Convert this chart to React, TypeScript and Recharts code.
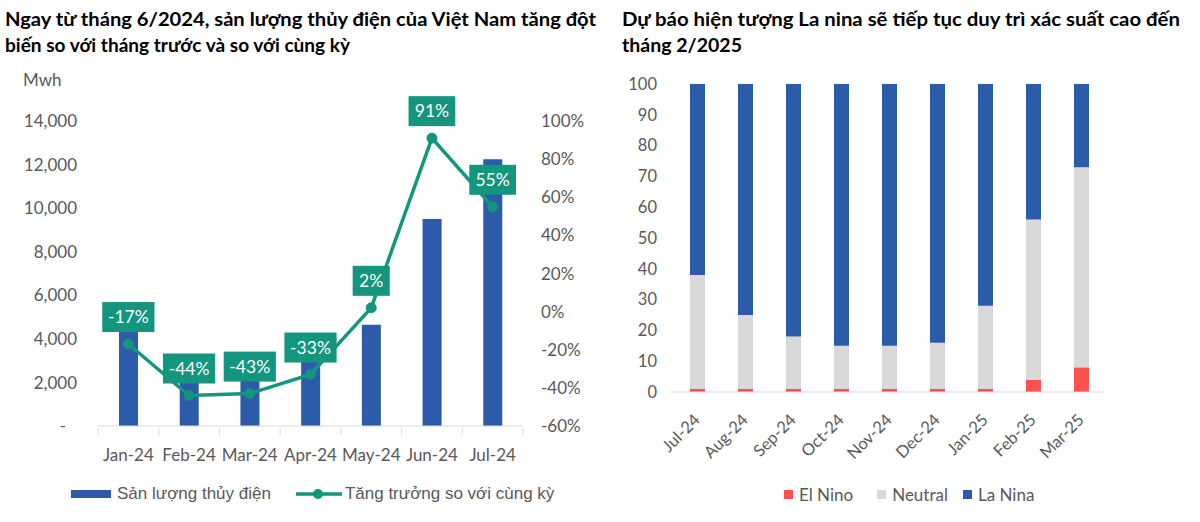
import React from 'react';
import { Bar, BarChart, ComposedChart, LabelList, Line, XAxis, YAxis } from 'recharts';

const hydroMonths = ['Jan-24', 'Feb-24', 'Mar-24', 'Apr-24', 'May-24', 'Jun-24', 'Jul-24'];
const hydroOutput = [4400, 2300, 2300, 3100, 4650, 9500, 12250];
const yoyGrowth = [-17, -44, -43, -33, 2, 91, 55];
const outputTicks = [0, 2000, 4000, 6000, 8000, 10000, 12000, 14000];
const growthTicks = [-60, -40, -20, 0, 20, 40, 60, 80, 100];

const ensoMonths = ['Jul-24', 'Aug-24', 'Sep-24', 'Oct-24', 'Nov-24', 'Dec-24', 'Jan-25', 'Feb-25', 'Mar-25'];
const elNino = [1, 1, 1, 1, 1, 1, 1, 4, 8];
const neutral = [37, 24, 17, 14, 14, 15, 27, 52, 65];
const laNina = [62, 75, 82, 85, 85, 84, 72, 44, 27];
const probTicks = [0, 10, 20, 30, 40, 50, 60, 70, 80, 90, 100];

const BLUE = '#2B5BA9';
const GREEN = '#13957E';
const RED = '#FF5050';
const LIGHT = '#D9D9D9';
const TEXT = '#595959';
const FONT = 'Lato, "Open Sans", sans-serif';

const hydroData = hydroMonths.map((month, i) => ({ month, output: hydroOutput[i], growth: yoyGrowth[i] }));
const ensoData = ensoMonths.map((month, i) => ({
  month,
  elNino: elNino[i],
  neutral: neutral[i],
  laNina: laNina[i],
}));

// rough glyph widths so the label box hugs the text
function labelWidth(text: string) {
  let w = 0;
  for (const ch of text) w += ch === '%' ? 13.5 : ch === '-' ? 5.5 : 9.6;
  return w + 14;
}

function GrowthLabel(props: any) {
  const { x, y, value } = props;
  const text = `${value}%`;
  const w = labelWidth(text);
  const cy = y - 27;
  return (
    <g>
      <rect x={x - w / 2} y={cy - 15} width={w} height={30} fill={GREEN} />
      <text x={x} y={cy} dy={'0.36em'} textAnchor={'middle'} fill={'#fff'} fontSize={17.5} fontFamily={FONT}>
        {text}
      </text>
    </g>
  );
}

function MonthTick(props: any) {
  const { x, y, payload, index, visibleTicksCount, width } = props;
  const half = payload.offset || width / visibleTicksCount / 2;
  return (
    <g>
      <line x1={x - half} x2={x - half} y1={y} y2={y + 7} stroke={LIGHT} />
      {index === visibleTicksCount - 1 && <line x1={x + half} x2={x + half} y1={y} y2={y + 7} stroke={LIGHT} />}
      <text x={x} y={y + 33} textAnchor={'middle'} fill={TEXT} fontSize={17} fontFamily={FONT}>
        {payload.value}
      </text>
    </g>
  );
}

function OutputTick(props: any) {
  const { x, y, payload } = props;
  const zero = payload.value === 0;
  return (
    <text x={zero ? x - 11 : x} y={y} dy={'0.36em'} textAnchor={'end'} fill={TEXT} fontSize={17} fontFamily={FONT}>
      {zero ? '-' : payload.value.toLocaleString('en-US')}
    </text>
  );
}

function RotatedTick(props: any) {
  const { x, y, payload } = props;
  const tx = x + 4;
  const ty = y + 27;
  return (
    <text x={tx} y={ty} transform={`rotate(-45, ${tx}, ${ty})`} textAnchor={'end'} fill={TEXT} fontSize={16.5} fontFamily={FONT}>
      {payload.value}
    </text>
  );
}

const titleStyle = { fontFamily: FONT, fontWeight: 700, fontSize: 18, fill: '#000' };

export default function App() {
  return (
    <div style={{ position: 'absolute', left: 0, top: 0, width: 1200, height: 522, background: '#fff', overflow: 'hidden' }}>
      <svg width={1200} height={100} style={{ position: 'absolute', left: 0, top: 0 }}>
        <text x={5} y={26} textLength={591} lengthAdjust={'spacingAndGlyphs'} style={titleStyle}>
          Ngay từ tháng 6/2024, sản lượng thủy điện của Việt Nam tăng đột
        </text>
        <text x={5} y={52} textLength={345} lengthAdjust={'spacingAndGlyphs'} style={titleStyle}>
          biến so với tháng trước và so với cùng kỳ
        </text>
        <text x={622} y={26} textLength={558} lengthAdjust={'spacingAndGlyphs'} style={titleStyle}>
          Dự báo hiện tượng La nina sẽ tiếp tục duy trì xác suất cao đến
        </text>
        <text x={622} y={52} textLength={120} lengthAdjust={'spacingAndGlyphs'} style={titleStyle}>
          tháng 2/2025
        </text>
        <text x={23} y={86} fill={TEXT} fontSize={17} fontFamily={FONT}>
          Mwh
        </text>
      </svg>

      <div style={{ position: 'absolute', left: 0, top: 0 }}>
        <ComposedChart width={600} height={522} data={hydroData} margin={{ top: 121, right: 17, bottom: 66, left: 28 }}>
          <XAxis
            dataKey={'month'}
            height={30}
            interval={0}
            axisLine={{ stroke: LIGHT }}
            tickLine={false}
            tickSize={0}
            tick={<MonthTick />}
          />
          <YAxis
            yAxisId={'mwh'}
            width={70}
            domain={[0, 14000]}
            ticks={outputTicks}
            axisLine={false}
            tickLine={false}
            tickSize={0}
            tickMargin={21}
            tick={<OutputTick />}
          />
          <YAxis
            yAxisId={'pct'}
            orientation={'right'}
            width={60}
            domain={[-60, 100]}
            ticks={growthTicks}
            axisLine={false}
            tickLine={false}
            tickSize={0}
            tickMargin={18}
            tickFormatter={(v: number) => `${v}%`}
            tick={{ fill: TEXT, fontSize: 17, fontFamily: FONT }}
          />
          <Bar yAxisId={'mwh'} dataKey={'output'} fill={BLUE} barSize={19} isAnimationActive={false} />
          <Line
            yAxisId={'pct'}
            dataKey={'growth'}
            type={'linear'}
            stroke={GREEN}
            strokeWidth={3.5}
            dot={{ r: 5, fill: GREEN, stroke: GREEN, strokeWidth: 1 }}
            activeDot={false}
            isAnimationActive={false}
          >
            <LabelList dataKey={'growth'} content={<GrowthLabel />} />
          </Line>
        </ComposedChart>
      </div>

      <div
        style={{
          position: 'absolute',
          left: 0,
          top: 484,
          width: 600,
          display: 'flex',
          alignItems: 'center',
          fontFamily: '"Liberation Sans", Arial, sans-serif',
          fontSize: 17,
          color: TEXT,
          whiteSpace: 'nowrap',
        }}
      >
        <span style={{ display: 'inline-block', marginLeft: 71, width: 40, height: 8, background: BLUE }} />
        <span style={{ marginLeft: 6 }}>Sản lượng thủy điện</span>
        <svg width={46} height={14} style={{ marginLeft: 25 }}>
          <line x1={0} x2={46} y1={7} y2={7} stroke={GREEN} strokeWidth={3.5} />
          <circle cx={22} cy={7} r={5} fill={GREEN} />
        </svg>
        <span style={{ marginLeft: 3 }}>Tăng trưởng so với cùng kỳ</span>
      </div>

      <div style={{ position: 'absolute', left: 600, top: 0 }}>
        <BarChart width={600} height={522} data={ensoData} margin={{ top: 84, right: 95, bottom: 70, left: 13 }}>
          <XAxis
            dataKey={'month'}
            height={60}
            interval={0}
            axisLine={{ stroke: LIGHT }}
            tickLine={false}
            tickSize={0}
            tick={<RotatedTick />}
          />
          <YAxis
            width={60}
            domain={[0, 100]}
            ticks={probTicks}
            axisLine={false}
            tickLine={false}
            tickSize={0}
            tickMargin={16}
            tick={{ fill: TEXT, fontSize: 16.5, fontFamily: FONT }}
          />
          <Bar stackId={'p'} dataKey={'elNino'} fill={RED} barSize={15} isAnimationActive={false} />
          <Bar stackId={'p'} dataKey={'neutral'} fill={LIGHT} barSize={15} isAnimationActive={false} />
          <Bar stackId={'p'} dataKey={'laNina'} fill={BLUE} barSize={15} isAnimationActive={false} />
        </BarChart>
      </div>

      <div
        style={{
          position: 'absolute',
          left: 784,
          top: 484,
          display: 'flex',
          alignItems: 'center',
          fontFamily: FONT,
          fontSize: 17,
          color: TEXT,
          whiteSpace: 'nowrap',
        }}
      >
        <span style={{ display: 'inline-block', width: 9, height: 9, background: RED }} />
        <span style={{ marginLeft: 6 }}>El Nino</span>
        <span style={{ display: 'inline-block', width: 9, height: 9, background: LIGHT, marginLeft: 24 }} />
        <span style={{ marginLeft: 6 }}>Neutral</span>
        <span style={{ display: 'inline-block', width: 9, height: 9, background: BLUE, marginLeft: 15 }} />
        <span style={{ marginLeft: 6 }}>La Nina</span>
      </div>
    </div>
  );
}
